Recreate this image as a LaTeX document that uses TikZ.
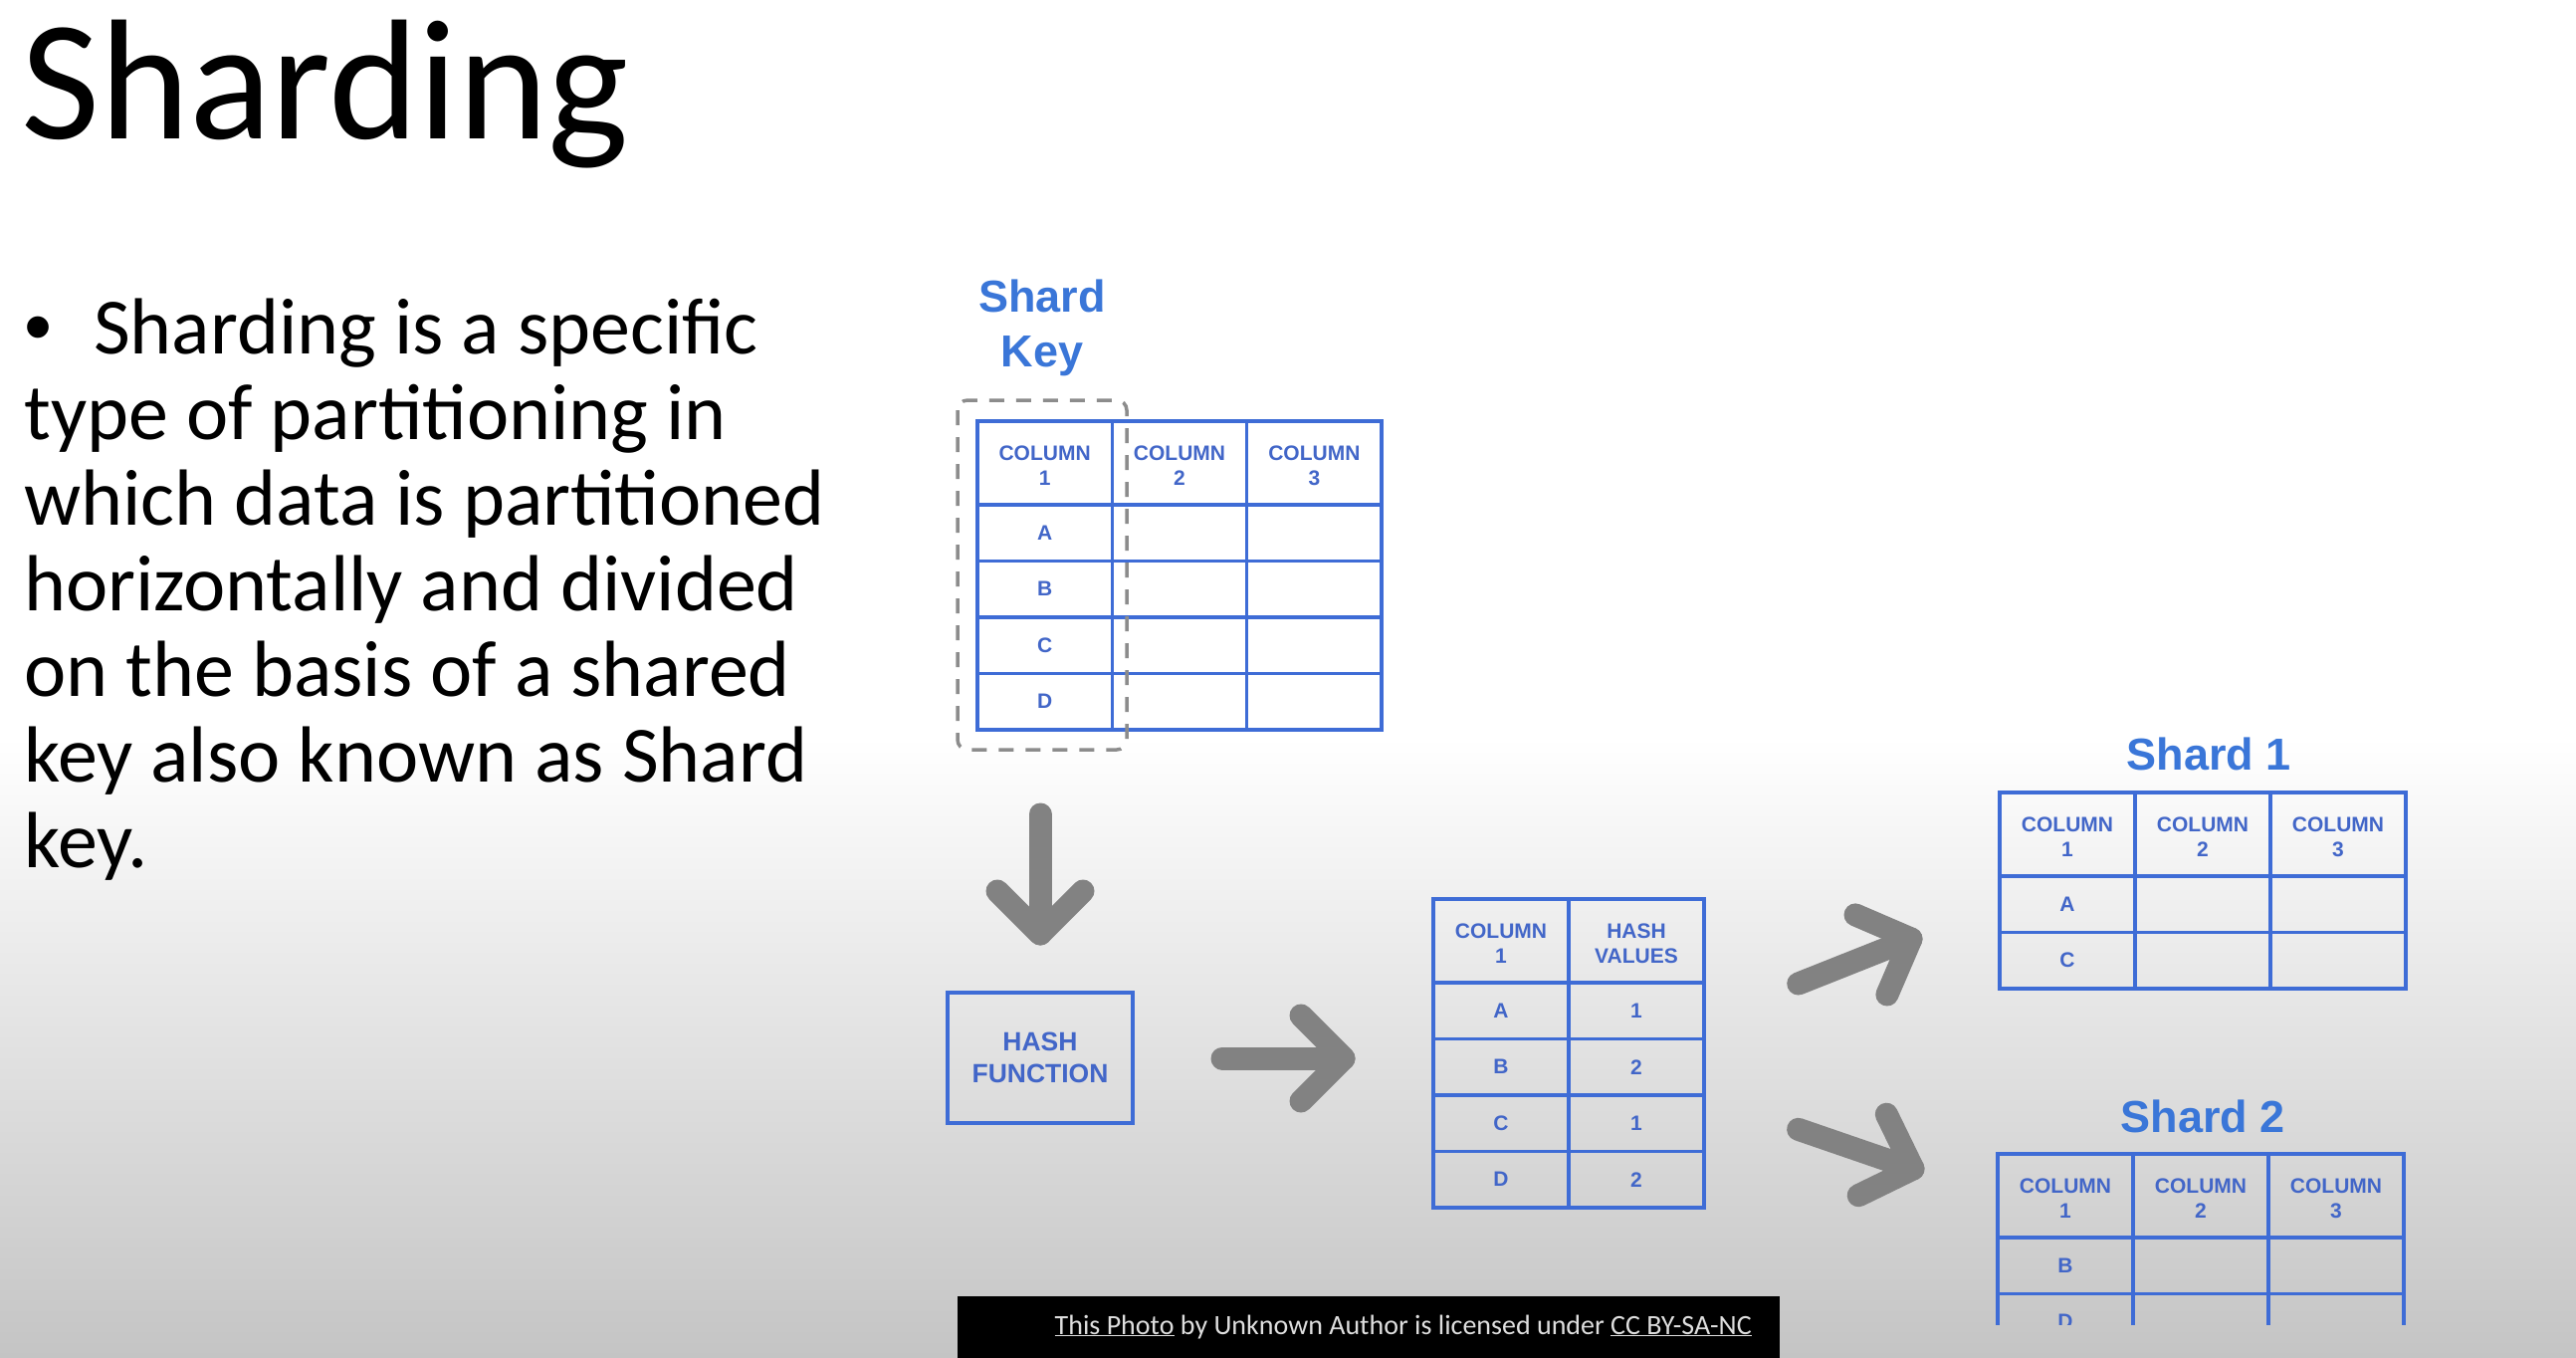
\documentclass[tikz,border=0pt]{standalone}
\usepackage{fontspec}
\setmainfont{Carlito}
\newfontfamily\labelfont{Liberation Sans}
\usetikzlibrary{calc}

\definecolor{gridblue}{RGB}{62,108,214}
\definecolor{titleblue}{RGB}{58,118,216}
\definecolor{cellblue}{RGB}{66,102,200}
\definecolor{arrowgray}{RGB}{130,130,130}
\definecolor{dashgray}{RGB}{140,140,140}
\definecolor{bgbottom}{RGB}{196,196,196}
\definecolor{credit}{RGB}{222,222,222}

% one table cell: name, left, top, right, bottom, text
\newcommand{\tcell}[6]{%
  \node[cell, minimum width={(#4-#2)*1pt}, minimum height={(#5-#3)*1pt}]
    (#1) at ({(#2+#4)/2},{(#3+#5)/2}) {#6};}
% header cell: name, left, top, right, bottom, first line, second line
\newcommand{\hcell}[7]{%
  \tcell{#1}{#2}{#3}{#4}{#5}{}%
  \node[celltext, yshift=-3pt] (#1-text) at (#1) {#6\\#7};}

\begin{document}
\begin{tikzpicture}[x=1pt, y=-1pt,
  celltext/.style={inner sep=0pt, text=cellblue, align=center,
    font=\labelfont\bfseries\fontsize{21}{25}\selectfont},
  cell/.style={celltext, draw=gridblue, line width=3.5pt, rectangle, outer sep=0pt},
  hashbox/.style={cell, font=\labelfont\bfseries\fontsize{26.5}{32}\selectfont},
  shardtitle/.style={anchor=base, inner sep=0pt, text=titleblue,
    font=\labelfont\bfseries\fontsize{45}{55}\selectfont},
  bodytext/.style={anchor=base west, inner sep=0pt,
    font=\fontsize{80}{86}\selectfont},
  fatarrow/.style={draw=arrowgray, line width=23pt, line cap=round, line join=round},
  keyframe/.style={draw=dashgray, line width=3.5pt, dash pattern=on 15pt off 12pt,
    rounded corners=10pt},
]
% slide background
\useasboundingbox (0,0) rectangle (2588,1364);
\fill[white] (0,0) rectangle (2588,1364);
\shade[top color=white, bottom color=bgbottom] (0,740) rectangle (2588,1364);

% heading and bullet text
\node[anchor=base west, inner sep=0pt, font=\fontsize{172}{172}\selectfont]
  (title) at (21,140) {Sharding};
\node[bodytext] (l1) at (24,355)
  {\makebox[70pt][l]{\labelfont •}Sharding is a specific};
\node[bodytext] (l2) at (24,441) {type of partitioning in};
\node[bodytext] (l3) at (24,527) {which data is partitioned};
\node[bodytext] (l4) at (24,613) {horizontally and divided};
\node[bodytext] (l5) at (24,699) {on the basis of a shared};
\node[bodytext] (l6) at (24,785) {key also known as Shard};
\node[bodytext] (l7) at (24,871) {key.};

% source table with its shard key column
\node[shardtitle] (skey1) at (1047,313) {Shard};
\node[shardtitle] (skey2) at (1047,368) {Key};
\hcell{k-h1}{982}{423}{1117.3}{507}{COLUMN}{1}
\hcell{k-h2}{1117.3}{423}{1252.7}{507}{COLUMN}{2}
\hcell{k-h3}{1252.7}{423}{1388}{507}{COLUMN}{3}
\tcell{k-a1}{982}{507}{1117.3}{563.5}{A}
\tcell{k-a2}{1117.3}{507}{1252.7}{563.5}{}
\tcell{k-a3}{1252.7}{507}{1388}{563.5}{}
\tcell{k-b1}{982}{563.5}{1117.3}{620}{B}
\tcell{k-b2}{1117.3}{563.5}{1252.7}{620}{}
\tcell{k-b3}{1252.7}{563.5}{1388}{620}{}
\tcell{k-c1}{982}{620}{1117.3}{676.5}{C}
\tcell{k-c2}{1117.3}{620}{1252.7}{676.5}{}
\tcell{k-c3}{1252.7}{620}{1388}{676.5}{}
\tcell{k-d1}{982}{676.5}{1117.3}{733}{D}
\tcell{k-d2}{1117.3}{676.5}{1252.7}{733}{}
\tcell{k-d3}{1252.7}{676.5}{1388}{733}{}
\draw[keyframe] (962,402) rectangle (1132,753);

% hash function
\node[hashbox, minimum width=186pt, minimum height=131pt] (hash) at (1045,1062.5)
  {HASH\\FUNCTION};

% key column with hash values
\hcell{h-h1}{1440}{903}{1576}{987}{COLUMN}{1}
\hcell{h-h2}{1576}{903}{1712}{987}{HASH}{VALUES}
\tcell{h-a1}{1440}{987}{1576}{1043.5}{A}
\tcell{h-a2}{1576}{987}{1712}{1043.5}{1}
\tcell{h-b1}{1440}{1043.5}{1576}{1100}{B}
\tcell{h-b2}{1576}{1043.5}{1712}{1100}{2}
\tcell{h-c1}{1440}{1100}{1576}{1156.5}{C}
\tcell{h-c2}{1576}{1100}{1712}{1156.5}{1}
\tcell{h-d1}{1440}{1156.5}{1576}{1213}{D}
\tcell{h-d2}{1576}{1156.5}{1712}{1213}{2}

% shard 1
\node[shardtitle] (s1title) at (2219,773) {Shard 1};
\hcell{s1-h1}{2009}{796}{2145}{880}{COLUMN}{1}
\hcell{s1-h2}{2145}{796}{2281}{880}{COLUMN}{2}
\hcell{s1-h3}{2281}{796}{2417}{880}{COLUMN}{3}
\tcell{s1-a1}{2009}{880}{2145}{936.5}{A}
\tcell{s1-a2}{2145}{880}{2281}{936.5}{}
\tcell{s1-a3}{2281}{880}{2417}{936.5}{}
\tcell{s1-c1}{2009}{936.5}{2145}{993}{C}
\tcell{s1-c2}{2145}{936.5}{2281}{993}{}
\tcell{s1-c3}{2281}{936.5}{2417}{993}{}

% shard 2, running off the bottom of the slide area
\node[shardtitle] (s2title) at (2213,1137) {Shard 2};
\begin{scope}
\clip (1980,1140) rectangle (2440,1330);
\hcell{s2-h1}{2007}{1159}{2143}{1243}{COLUMN}{1}
\hcell{s2-h2}{2143}{1159}{2279}{1243}{COLUMN}{2}
\hcell{s2-h3}{2279}{1159}{2415}{1243}{COLUMN}{3}
\tcell{s2-b1}{2007}{1243}{2143}{1299.5}{B}
\tcell{s2-b2}{2143}{1243}{2279}{1299.5}{}
\tcell{s2-b3}{2279}{1243}{2415}{1299.5}{}
\tcell{s2-d1}{2007}{1299.5}{2143}{1356}{D}
\tcell{s2-d2}{2143}{1299.5}{2279}{1356}{}
\tcell{s2-d3}{2279}{1299.5}{2415}{1356}{}
\end{scope}

% flow arrows
\coordinate (down-tail) at (1045,818);
\coordinate (down-tip) at (1045,938);
\draw[fatarrow] (down-tail) -- (down-tip);
\draw[fatarrow] ($(down-tip)+(-43,-43)$) -- (down-tip) -- ($(down-tip)+(43,-43)$);

\coordinate (right-tail) at (1228,1063);
\coordinate (right-tip) at (1350,1063);
\draw[fatarrow] (right-tail) -- (right-tip);
\draw[fatarrow] ($(right-tip)+(-43,-43)$) -- (right-tip) -- ($(right-tip)+(-43,43)$);

\coordinate (up-tail) at (1806.7,988);
\coordinate (up-tip) at (1920,943);
\draw[fatarrow] (up-tail) -- (up-tip);
\draw[fatarrow] ($(up-tip)+(-56,-24.1)$) -- (up-tip) -- ($(up-tip)+(-24.1,56)$);

\coordinate (dn-tail) at (1806.6,1134.3);
\coordinate (dn-tip) at (1922,1174);
\draw[fatarrow] (dn-tail) -- (dn-tip);
\draw[fatarrow] ($(dn-tip)+(-26.7,-54.8)$) -- (dn-tip) -- ($(dn-tip)+(-54.8,26.7)$);

% image credit bar
\node[fill=black, inner sep=0pt, outer sep=0pt, minimum width=826pt,
  minimum height=62pt, anchor=north west] (creditbar) at (962,1302) {};
\node[anchor=base east, inner sep=0pt, text=credit, font=\fontsize{28}{28}\selectfont]
  (credittext) at (1760,1340)
  {\underline{This Photo} by Unknown Author is licensed under \underline{CC BY-SA-NC}};
\end{tikzpicture}
\end{document}
